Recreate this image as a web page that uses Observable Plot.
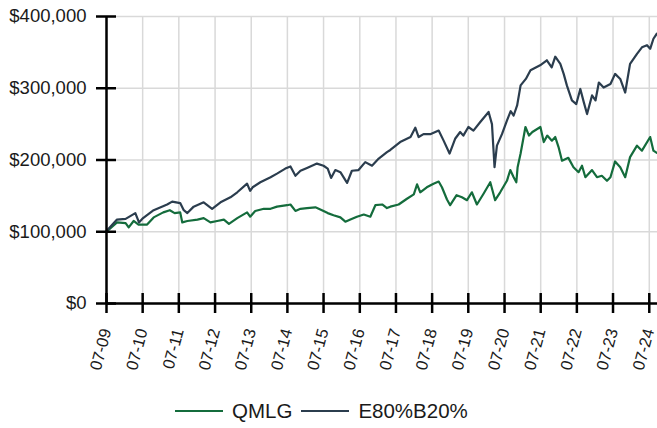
<!DOCTYPE html>
<html><head><meta charset="utf-8">
<script src="https://cdn.jsdelivr.net/npm/d3@7"></script>
<script src="https://cdn.jsdelivr.net/npm/@observablehq/plot@0.6"></script>
<style>
body{margin:0;background:#fff;font-family:"Liberation Sans",Arial,sans-serif;}
#wrap{position:relative;width:657px;height:428px;overflow:hidden;}
#legend{position:absolute;left:175px;top:399px;display:flex;align-items:center;font-size:20.5px;color:#1a1a1a;white-space:nowrap;}
.sw{display:inline-block;width:48px;height:2px;margin-right:9px;}
.lt{margin-right:9px;}
</style></head><body><div id="wrap"><div id="chart"></div><div id="legend"></div></div>
<script>
const seriesNames = ["QMLG", "E80%B20%"];
const seriesColors = ["#146c3c", "#2b3d4e"];

const qmlgDates = ["2009-07-01","2009-10-15","2010-01-10","2010-02-10","2010-04-01","2010-05-20","2010-08-15","2010-10-20","2011-01-25","2011-04-01","2011-05-20","2011-07-15","2011-08-05","2011-09-25","2012-01-05","2012-03-08","2012-05-15","2012-07-22","2012-09-28","2012-11-18","2013-02-10","2013-05-20","2013-06-20","2013-08-10","2013-11-05","2014-01-12","2014-03-18","2014-06-28","2014-08-01","2014-09-20","2014-11-10","2015-01-15","2015-04-10","2015-06-15","2015-08-12","2015-10-10","2015-12-18","2016-02-06","2016-03-28","2016-06-02","2016-08-10","2016-10-15","2016-12-05","2017-02-12","2017-04-01","2017-05-05","2017-07-28","2017-10-20","2017-12-28","2018-01-30","2018-03-03","2018-05-08","2018-07-15","2018-09-05","2018-10-08","2018-11-28","2018-12-30","2019-03-05","2019-04-28","2019-06-18","2019-08-06","2019-09-26","2019-12-02","2020-02-08","2020-03-28","2020-05-18","2020-07-25","2020-08-28","2020-10-01","2020-10-28","2020-11-10","2020-12-10","2021-01-28","2021-03-05","2021-04-08","2021-06-28","2021-08-01","2021-09-05","2021-10-22","2021-11-25","2021-12-28","2022-02-01","2022-04-06","2022-05-28","2022-07-18","2022-08-22","2022-09-25","2022-12-01","2023-01-20","2023-03-10","2023-05-01","2023-06-05","2023-07-22","2023-09-12","2023-11-01","2023-12-20","2024-02-28","2024-04-18","2024-07-10","2024-08-12","2024-09-15"];
const qmlgValues = [100000,113000,112000,106000,115000,110000,110000,120000,127000,130000,126000,127000,113000,115000,117000,119000,113000,115000,117000,111000,119000,127000,121000,129000,132000,132000,135000,137000,138000,129000,132000,133000,134000,130000,126000,123000,120000,114000,117000,121000,124000,121000,137000,138000,133000,135000,138000,146000,152000,166000,155000,162000,167000,170000,162000,145000,137000,151000,148000,144000,155000,138000,153000,169000,144000,155000,171000,186000,176000,169000,190000,209000,246000,234000,239000,246000,225000,234000,227000,232000,218000,199000,203000,190000,183000,192000,176000,186000,176000,178000,171000,176000,198000,190000,176000,204000,220000,213000,232000,213000,210000];

const e80Dates = ["2009-07-01","2009-10-15","2010-01-10","2010-04-18","2010-05-25","2010-07-05","2010-10-20","2011-03-05","2011-04-25","2011-07-15","2011-08-20","2011-09-25","2011-11-28","2012-03-08","2012-06-01","2012-08-25","2012-12-03","2013-02-10","2013-05-20","2013-06-20","2013-07-15","2013-10-01","2014-01-12","2014-03-18","2014-06-10","2014-08-01","2014-09-20","2014-11-10","2015-01-15","2015-04-25","2015-07-01","2015-08-12","2015-09-15","2015-10-28","2015-12-18","2016-02-06","2016-02-24","2016-04-12","2016-06-18","2016-08-25","2016-11-01","2017-01-08","2017-04-01","2017-05-05","2017-08-12","2017-11-25","2018-01-12","2018-02-15","2018-04-05","2018-06-12","2018-09-05","2018-10-25","2018-12-24","2019-02-20","2019-04-10","2019-05-12","2019-07-02","2019-08-22","2019-10-30","2020-01-22","2020-02-25","2020-03-22","2020-04-15","2020-06-05","2020-07-25","2020-09-01","2020-10-01","2020-11-05","2020-12-10","2021-02-01","2021-03-20","2021-06-25","2021-09-01","2021-10-20","2021-11-25","2022-01-15","2022-02-18","2022-03-22","2022-05-12","2022-06-25","2022-08-05","2022-09-08","2022-10-12","2022-12-01","2023-01-05","2023-02-08","2023-03-28","2023-06-05","2023-07-22","2023-09-12","2023-11-01","2023-12-20","2024-02-28","2024-04-18","2024-06-08","2024-07-10","2024-08-12","2024-09-15"];
const e80Values = [101000,117000,118000,126000,113000,119000,130000,138000,142000,140000,130000,126000,135000,141000,132000,141000,148000,155000,167000,157000,162000,169000,176000,181000,188000,191000,178000,185000,189000,195000,192000,188000,175000,186000,183000,172000,168000,185000,186000,197000,192000,202000,211000,214000,225000,232000,245000,232000,236000,236000,241000,227000,209000,230000,239000,234000,246000,241000,253000,267000,250000,190000,220000,236000,255000,268000,262000,276000,304000,313000,325000,332000,339000,329000,344000,334000,320000,304000,283000,278000,299000,281000,264000,290000,283000,308000,301000,306000,320000,313000,294000,334000,348000,357000,360000,355000,369000,376000];

const xTickDates = ["2009-07-01","2010-07-01","2011-07-01","2012-07-01","2013-07-01","2014-07-01","2015-07-01","2016-07-01","2017-07-01","2018-07-01","2019-07-01","2020-07-01","2021-07-01","2022-07-01","2023-07-01","2024-07-01"];
const yTicks = [0, 100000, 200000, 300000, 400000];

const parse = d3.utcParse("%Y-%m-%d");
const rows = [
  ...qmlgDates.map((d, i) => ({date: parse(d), value: qmlgValues[i], series: seriesNames[0]})),
  ...e80Dates.map((d, i) => ({date: parse(d), value: e80Values[i], series: seriesNames[1]}))
];
const xTicks = xTickDates.map(parse);
const dollar = d => "$" + d3.format(",")(d);

const chart = Plot.plot({
  width: 657, height: 390,
  marginTop: 16, marginLeft: 106, marginRight: 0, marginBottom: 87,
  style: {fontFamily: "'Liberation Sans', Arial, sans-serif", fontSize: "18.5px", color: "#1a1a1a", background: "#fff", overflow: "visible"},
  x: {type: "utc", domain: [parse("2009-07-01"), parse("2024-09-22")]},
  y: {domain: [0, 400000]},
  color: {domain: seriesNames, range: seriesColors},
  marks: [
    Plot.gridX(xTicks, {stroke: "#d9d9d9", strokeOpacity: 1, strokeWidth: 1.5}),
    Plot.gridY(yTicks, {stroke: "#d9d9d9", strokeOpacity: 1, strokeWidth: 1.5}),
    Plot.lineY(rows, {x: "date", y: "value", z: "series", stroke: "series", strokeWidth: 2.2}),
    Plot.ruleX([xTicks[0]], {stroke: "#000", strokeWidth: 2.5}),
    Plot.ruleY([0], {stroke: "#000", strokeWidth: 2.5}),
    Plot.axisY(yTicks, {tickSize: 20, dx: 10, fill: "none", stroke: "#000", strokeWidth: 2.5, label: null}),
    Plot.axisY(yTicks, {tickSize: 0, tickPadding: 20, tickFormat: dollar, fill: "#1a1a1a", label: null}),
    Plot.axisX(xTicks, {tickSize: 20, dy: -10, fill: "none", stroke: "#000", strokeWidth: 2.5, label: null}),
    Plot.axisX(xTicks, {tickSize: 0, tickPadding: 0, tickRotate: -75, textAnchor: "end", lineAnchor: "bottom", dx: 5, dy: 27, fontSize: 16.5, tickFormat: d3.utcFormat("%m-%y"), fill: "#1a1a1a", label: null})
  ]
});
document.getElementById("chart").appendChild(chart);

const legend = document.getElementById("legend");
seriesNames.forEach((n, i) => {
  const sw = document.createElement("span");
  sw.className = "sw"; sw.style.background = seriesColors[i];
  const t = document.createElement("span");
  t.className = "lt"; t.textContent = n;
  legend.appendChild(sw); legend.appendChild(t);
});
</script></body></html>
